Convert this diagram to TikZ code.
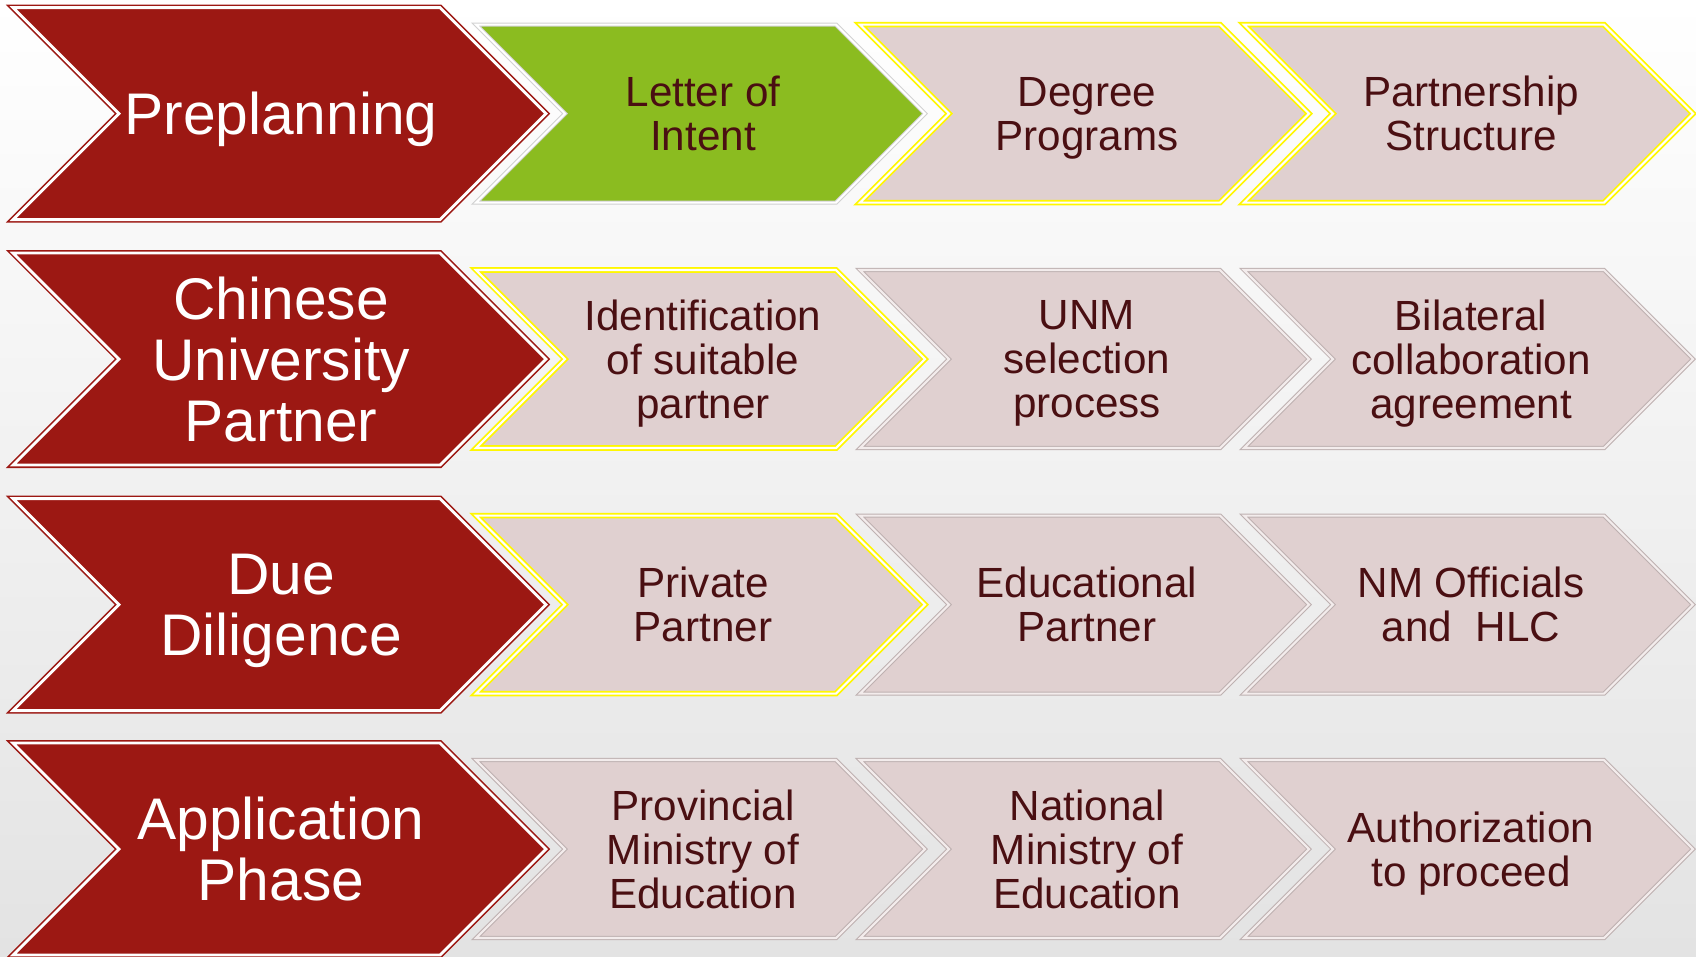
\documentclass[tikz,border=0pt]{standalone}
\usepackage{fontspec}
\setmainfont{Liberation Sans}
\usetikzlibrary{positioning,calc}
\definecolor{maroon}{HTML}{9C1813}
\definecolor{leaf}{HTML}{8BBC20}
\definecolor{blush}{HTML}{E0D0D0}
\definecolor{plum}{HTML}{4A0F12}
\definecolor{lemon}{HTML}{FFF700}
% chevron: style, left x, centre y, half height, width
\newcommand{\chevshape}[5]{%
  \draw[#1] (#2,#3-#4) -- ++({#5-#4},0) -- ++(#4,#4) -- ++(-#4,#4)
    -- ++({-(#5-#4)},0) -- ++(#4,-#4) -- cycle;}

\begin{document}
\begin{tikzpicture}[x=0.01cm,y=-0.01cm,
        phase/.style={fill=maroon,draw=maroon,double=white,double distance=0.8pt,line width=0.45pt},
        stepchev/.style={fill=blush,draw=blush!85!black,double=blush!40!white,double distance=0.6pt,line width=0.3pt},
        lit/.style={draw=lemon,double=white,line width=0.5pt},
        plain/.style={},
        done/.style={fill=leaf,draw=black!18,double=white},
        bigtxt/.style={text=white,align=center,text depth=0pt,font=\fontsize{16.7}{17.3}\selectfont},
        smalltxt/.style={text=plum,align=center,text depth=0pt,font=\fontsize{12}{12.5}\selectfont}]
        \useasboundingbox (0,0) rectangle (1696,956);
        \shade[top color=white,middle color=white,bottom color=black!11] (0,0) rectangle (1696,956);
        % phases
        \foreach \y/\lbl [count=\i] in {113.6/Preplanning,
            359/{Chinese\\University\\Partner},
            604.6/{Due\\Diligence},
            849/{Application\\Phase}} {
          \chevshape{phase}{13}{\y}{106}{533}
          \node[bigtxt] (phase\i) at (281,\y) {\lbl};
        }
        % steps
        \foreach \x/\y/\sty/\lbl [count=\k] in {
            476/113.6/done/{Letter of\\Intent},
            860/113.6/lit/{Degree\\Programs},
            1244/113.6/lit/{Partnership\\Structure},
            476/359/lit/{Identification\\of suitable\\partner},
            860/359/plain/{UNM\\selection\\process},
            1244/359/plain/{Bilateral\\collaboration\\agreement},
            476/604.6/lit/{Private\\Partner},
            860/604.6/plain/{Educational\\Partner},
            1244/604.6/plain/{NM Officials\\and\ \ HLC},
            476/849/plain/{Provincial\\Ministry of\\Education},
            860/849/plain/{National\\Ministry of\\Education},
            1244/849/plain/{Authorization\\to proceed}} {
          \chevshape{stepchev,\sty}{\x}{\y}{89}{449}
          \node[smalltxt] (task\k) at (\x+227,\y) {\lbl};
        }
      \end{tikzpicture}
\end{document}
